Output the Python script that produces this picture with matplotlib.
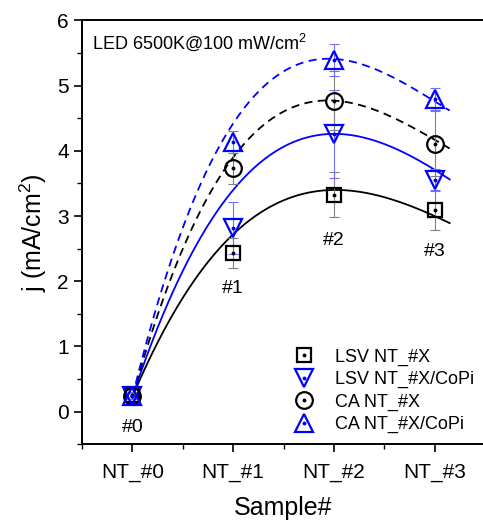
import numpy as np
import matplotlib.pyplot as plt
from matplotlib.legend_handler import HandlerTuple

plt.rcParams['font.family'] = ['Liberation Sans', 'DejaVu Sans']
plt.rcParams['mathtext.fontset'] = 'custom'
plt.rcParams['mathtext.rm'] = 'Liberation Sans'
plt.rcParams['mathtext.it'] = 'Liberation Sans:italic'

samples = ['NT_#0', 'NT_#1', 'NT_#2', 'NT_#3']
tags = ['#0', '#1', '#2', '#3']

# photocurrent density, mA/cm2
lsv_nt = [0.25, 2.44, 3.33, 3.09]
lsv_nt_err = [0.05, 0.23, 0.34, 0.30]
lsv_copi = [0.24, 2.82, 4.26, 3.56]
lsv_copi_err = [0.05, 0.40, 0.67, 0.16]
ca_nt = [0.24, 3.74, 4.77, 4.11]
ca_nt_err = [0.05, 0.25, 0.45, 0.50]
ca_copi = [0.24, 4.14, 5.39, 4.80]
ca_copi_err = [0.05, 0.17, 0.25, 0.17]

# trend-line values at each sample
fit_lsv_nt = [0.23, 2.72, 3.40, 3.00]
fit_lsv_copi = [0.23, 3.40, 4.26, 3.71]
fit_ca_nt = [0.23, 3.90, 4.77, 4.17]
fit_ca_copi = [0.23, 4.42, 5.41, 4.76]

# label offsets below the LSV squares (points)
tag_offset = [-21, -15, -17, -16]

BLUE = '#0000ff'

fig = plt.figure(figsize=(4.83, 5.23), dpi=100)
ax = fig.add_axes([0.170, 0.1505, 0.834, 0.8105])

x = np.arange(len(samples))
xf = np.linspace(0, 3.15, 200)

series = [
    (lsv_nt, lsv_nt_err, fit_lsv_nt, 's', 'k', '-', 10, 'LSV NT_#X', '#808080'),
    (lsv_copi, lsv_copi_err, fit_lsv_copi, 'v', BLUE, '-', 13, 'LSV NT_#X/CoPi', '#6f6fff'),
    (ca_nt, ca_nt_err, fit_ca_nt, 'o', 'k', (0, (4.5, 3)), 12, 'CA NT_#X', '#808080'),
    (ca_copi, ca_copi_err, fit_ca_copi, '^', BLUE, (0, (4.5, 3)), 13, 'CA NT_#X/CoPi', '#6f6fff'),
]

# cubic trend lines
for vals, err, fit, m, c, ls, ms, lab, ec in series:
    coef = np.polyfit(x, fit, 3)
    ax.plot(xf, np.polyval(coef, xf), color=c, ls=ls, lw=1.3, zorder=2)

# error bars
for vals, err, fit, m, c, ls, ms, lab, ec in series:
    ax.errorbar(x, vals, yerr=err, fmt='none', ecolor=ec, elinewidth=0.8,
                capsize=3.5, capthick=0.8, zorder=3)

handles = []
for vals, err, fit, m, c, ls, ms, lab, ec in series:
    h1, = ax.plot(x, vals, ls='none', marker=m, ms=ms, mfc='none', mec=c,
                  mew=1.6, zorder=4)
    h2, = ax.plot(x, vals, ls='none', marker='o', ms=1.8, color=c, zorder=5)
    handles.append((h1, h2))

for i, t in enumerate(tags):
    ax.annotate(t, (x[i], lsv_nt[i] - lsv_nt_err[i]), xytext=(0, tag_offset[i]),
                textcoords='offset points', ha='center', va='center', fontsize=14)

ax.text(0.025, 0.949, 'LED 6500K@100 mW/cm$^2$', transform=ax.transAxes,
        ha='left', va='center', fontsize=13)

ax.legend(handles, [s[7] for s in series], handler_map={tuple: HandlerTuple(ndivide=1)},
          loc='lower right', bbox_to_anchor=(1.0, 0.0), frameon=False, fontsize=13,
          handlelength=1.4, handletextpad=1.0, labelspacing=0.3, borderaxespad=0.2)

ax.set_xlim(-0.5, 3.5)
ax.set_ylim(-0.5, 6)
ax.set_xticks(x)
ax.set_xticklabels(samples)
ax.set_xticks([-0.5, 0.5, 1.5, 2.5, 3.5], minor=True)
ax.set_yticks(range(0, 7))
ax.set_yticks(np.arange(-0.5, 6, 1.0), minor=True)
ax.tick_params(which='major', direction='out', length=5.5, width=1.2, labelsize=15, pad=4)
ax.tick_params(which='minor', direction='out', length=3.5, width=1.0)
ax.tick_params(axis='x', pad=8)

for s in ['left', 'bottom', 'top']:
    ax.spines[s].set_linewidth(1.4)
ax.spines['right'].set_visible(False)

ax.set_xlabel('Sample#', fontsize=18, labelpad=10)
ax.set_ylabel('j (mA/cm$^2$)', fontsize=18, labelpad=6)

plt.savefig('out.png', dpi=100)
